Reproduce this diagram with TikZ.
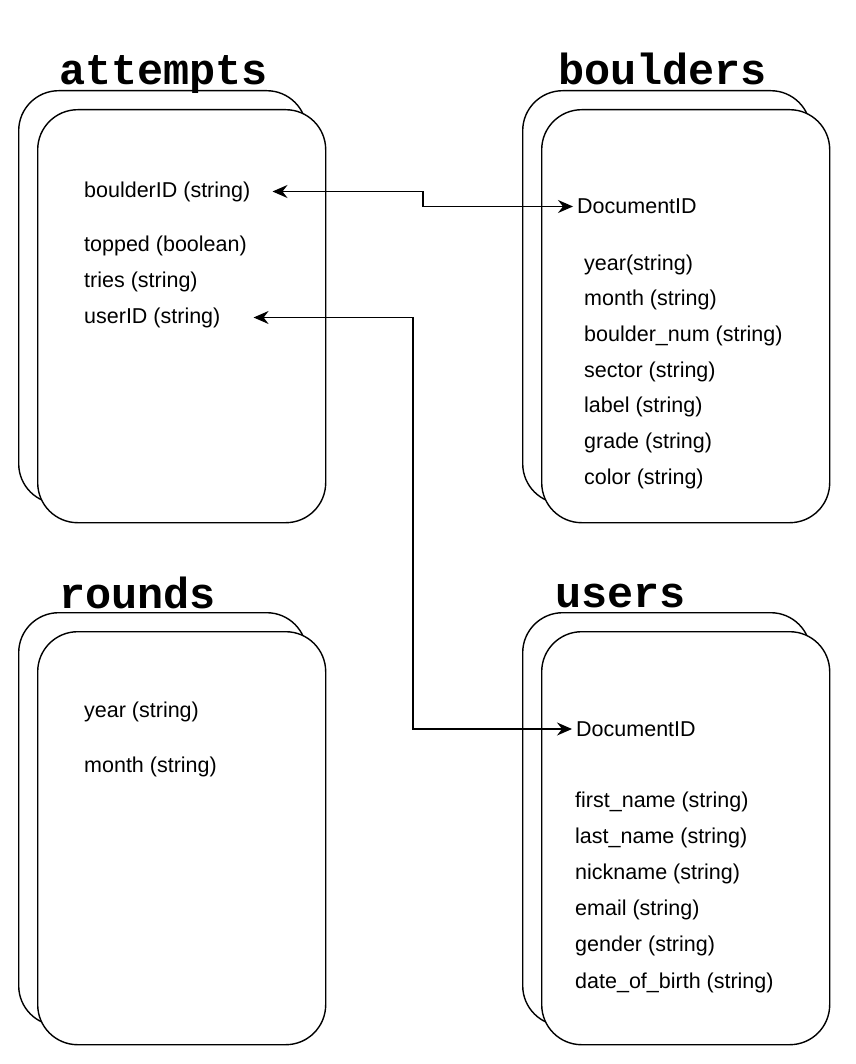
\documentclass[tikz,border=0pt]{standalone}
\usepackage{fontspec}
\setmainfont{Liberation Sans}
\newfontfamily\headfont{Liberation Mono}
\usetikzlibrary{arrows.meta}

\begin{document}
\begin{tikzpicture}[
    x=1pt,
    y=-1pt,
    card/.style={
      draw,
      line width=1.4pt,
      fill=white,
      rounded corners=40pt,
      minimum width=288pt,
      minimum height=413pt,
      anchor=north west,
    },
    title/.style={
      anchor=base west,
      inner sep=0pt,
      font=\headfont\bfseries\fontsize{43.5}{43.5}\selectfont,
    },
    field/.style={
      anchor=west,
      inner sep=0pt,
      font=\fontsize{21.5}{24}\selectfont,
    },
    link/.style={
      line width=1.3pt,
      >={Stealth[length=15pt,width=13pt,inset=5pt]},
      <->,
    },
  ]
  \useasboundingbox (0, 0) rectangle (855, 1064);
  \def\offset{19}

  \foreach \name/\x/\y in {attempts/37/109, boulders/541/109, rounds/37/631, users/541/631}
  {
    \node[card] (\name-back) at (\x-\offset, \y-\offset) {};
    \node[card] (\name) at (\x, \y) {};
  }

  \node[title] (attempts-title) at (59, 85) {attempts};
  \node[title] (boulders-title) at (558, 85) {boulders};
  \node[title] (rounds-title) at (59, 608) {rounds};
  \node[title] (users-title) at (555, 607) {users};

  \node[field] (att-boulder) at (84, 191.5) {boulderID (string)};
  \node[field] (att-topped) at (84, 245.5) {topped (boolean)};
  \node[field] (att-tries) at (84, 281.5) {tries (string)};
  \node[field] (att-user) at (84, 317.5) {userID (string)};

  \node[field] (bld-id) at (577, 206.5) {DocumentID};
  \foreach \i/\txt in {0/year(string), 1/month (string), 2/boulder\_num (string),
    3/sector (string), 4/label (string), 5/grade (string), 6/color (string)}
  {
    \node[field] (bld-\i) at (584, 264.5+35.7*\i) {\txt};
  }

  \node[field] (rnd-year) at (84, 711.5) {year (string)};
  \node[field] (rnd-month) at (84, 766.5) {month (string)};

  \node[field] (usr-id) at (576, 729) {DocumentID};
  \foreach \i/\txt in {0/first\_name (string), 1/last\_name (string), 2/nickname (string),
    3/email (string), 4/gender (string), 5/date\_of\_birth (string)}
  {
    \node[field] (usr-\i) at (575, 801.5+36.2*\i) {\txt};
  }

  \coordinate (jog-bld) at (423, 0);
  \coordinate (jog-usr) at (413, 0);
  \draw[link]
    ([xshift=22pt]att-boulder.east) --
    (att-boulder.east -| jog-bld) |-
    ([xshift=-4pt]bld-id.west)
  ;
  \draw[link]
    ([xshift=33pt]att-user.east) --
    (att-user.east -| jog-usr) |-
    ([xshift=-4pt]usr-id.west)
  ;

\end{tikzpicture}
\end{document}
